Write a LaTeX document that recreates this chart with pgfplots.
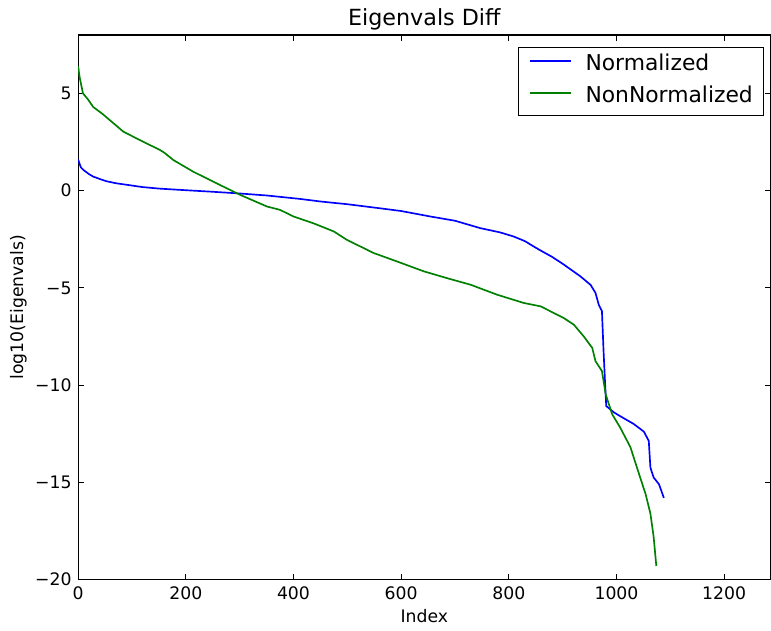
\documentclass[border=0pt]{standalone}
\usepackage{fontspec}
\setmainfont{DejaVu Sans}
\usepackage{pgfplots}
\pgfplotsset{compat=1.18}
\definecolor{mblue}{rgb}{0,0,1}
\definecolor{mgreen}{rgb}{0,0.5,0}
\begin{document}
\begin{tikzpicture}
\begin{axis}[
  scale only axis, width=498pt, height=391.7pt,
  xmin=0, xmax=1286, ymin=-20, ymax=8,
  xtick={0,200,...,1200}, ytick={-20,-15,-10,-5,0,5},
  yticklabels={−20,−15,−10,−5,0,5},
  minor tick num=0,
  /pgf/number format/assume math mode=true,
  /pgf/number format/1000 sep={},
  tick label style={font=\fontsize{12.4}{14}\selectfont, inner sep=0pt},
  xticklabel style={anchor=base, yshift=-14.4pt},
  yticklabel style={anchor=east, xshift=-4.5pt},
  axis line style={black, line width=0.8pt},
  major tick style={black, line width=0.6pt},
  major tick length=4pt,
  title={Eigenvals Diff},
  title style={at={(axis description cs:0.5,1.0166)}, anchor=base, yshift=-5.8pt, font=\fontsize{16}{19}\selectfont},
  xlabel={Index},
  xlabel style={at={(axis description cs:0.5,-0.078)}, anchor=base, font=\fontsize{12.4}{14}\selectfont},
  ylabel={log10(Eigenvals)},
  ylabel style={at={(axis description cs:-0.0864,0.5)}, anchor=center, font=\fontsize{12.4}{14}\selectfont},
  legend cell align=left,
  legend style={at={(axis description cs:1,1)}, anchor=north east, xshift=-4.3pt, yshift=-8.6pt,
    draw=black, line width=0.8pt, font=\fontsize{15.7}{18}\selectfont,
    inner xsep=8pt, inner ysep=6.5pt, column sep=10pt, row sep=10pt,
    nodes={inner sep=0pt, text height=10pt, text depth=3pt}},
]
\addplot[mblue, line width=1.2pt,
  legend image code/.code={\draw[mblue, line width=1.2pt] (0pt,3.5pt) -- (29pt,3.5pt);}] coordinates {
(0,1.6) (5,1.2) (10,1.06) (20,0.85) (28,0.72) (40,0.6) (53,0.48) (70,0.38) (90,0.3)
(120,0.18) (152,0.1) (200,0.02) (250,-0.06) (301,-0.15) (350,-0.25) (413,-0.43)
(450,-0.56) (500,-0.7) (561,-0.91) (600,-1.05) (654,-1.33) (700,-1.55) (747,-1.93)
(784,-2.15) (809,-2.36) (830,-2.6) (846,-2.87) (859,-3.08) (880,-3.4) (902,-3.8)
(933,-4.41) (952,-4.85)
(961,-5.26) (967,-5.86) (973,-6.2) (976,-8.26) (979,-10.0) (981,-11.08) (995,-11.4)
(1007,-11.6) (1032,-12.0) (1045,-12.27) (1051,-12.4) (1060,-12.87) (1063,-14.24)
(1069,-14.75) (1079,-15.1) (1088,-15.8)
};
\addlegendentry{Normalized}
\addplot[mgreen, line width=1.2pt,
  legend image code/.code={\draw[mgreen, line width=1.2pt] (0pt,3.5pt) -- (29pt,3.5pt);}] coordinates {
(0,6.4) (3,5.8) (9,5.0) (18,4.7) (28,4.3) (45,3.95) (59,3.62) (84,3.03) (121,2.51)
(152,2.09) (160,1.95) (177,1.57) (214,0.97) (251,0.46) (301,-0.22) (351,-0.82)
(375,-0.99) (400,-1.33) (437,-1.68) (475,-2.1) (499,-2.53) (549,-3.21) (592,-3.64)
(642,-4.15) (685,-4.5) (729,-4.84) (778,-5.35) (828,-5.78) (859,-5.95) (902,-6.55)
(921,-6.9) (939,-7.49) (955,-8.09) (961,-8.77) (973,-9.28) (980,-10.48) (992,-11.5)
(1007,-12.19) (1026,-13.2) (1038,-14.24) (1054,-15.6) (1063,-16.6) (1069,-17.8) (1074,-19.3)
};
\addlegendentry{NonNormalized}
\end{axis}
\pgfresetboundingbox
\path[use as bounding box] ([xshift=-56.2pt,yshift=-36.7pt]current axis.south west) rectangle ([xshift=0.4pt,yshift=25.2pt]current axis.north east);
\end{tikzpicture}
\end{document}
